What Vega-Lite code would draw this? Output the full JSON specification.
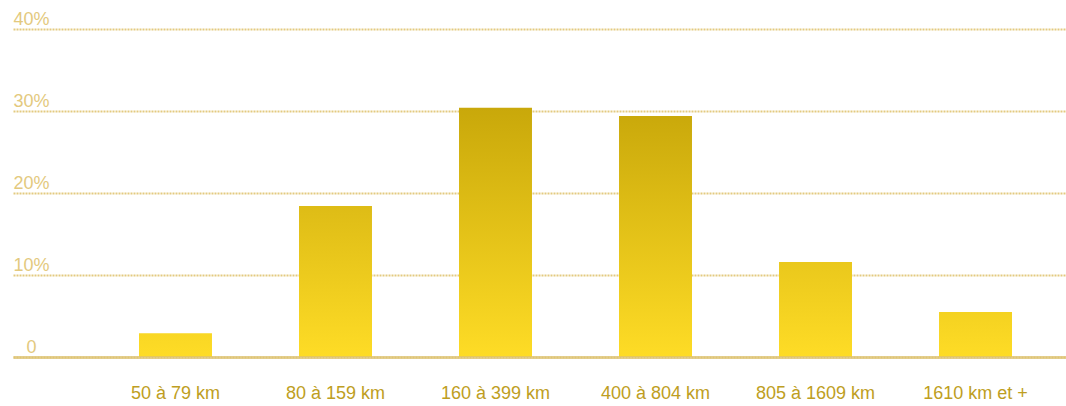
{
  "$schema": "https://vega.github.io/schema/vega-lite/v6.json",
  "autosize": {"type": "none"},
  "padding": {"left": 13, "top": 29, "right": 0, "bottom": 49},
  "width": 1053,
  "height": 328,
  "background": "white",
  "data": {
    "values": [
      {"dist": "50 à 79 km", "pct": 2.9},
      {"dist": "80 à 159 km", "pct": 18.4},
      {"dist": "160 à 399 km", "pct": 30.4},
      {"dist": "400 à 804 km", "pct": 29.4},
      {"dist": "805 à 1609 km", "pct": 11.6},
      {"dist": "1610 km et +", "pct": 5.5}
    ]
  },
  "config": {
    "view": {"stroke": null},
    "font": "Liberation Sans"
  },
  "encoding": {
    "x": {
      "field": "dist",
      "type": "nominal",
      "sort": null,
      "scale": {"paddingInner": 0.544, "paddingOuter": 0.5625, "align": 0.7, "round": false},
      "axis": {
        "title": null,
        "orient": "bottom",
        "labelAngle": 0,
        "ticks": false,
        "tickSize": 0,
        "labelPadding": 27,
        "labelFontSize": 18,
        "labelColor": "#BE9E22",
        "labelFont": "Liberation Sans",
        "domainColor": "#DCC272",
        "domainOpacity": 0.75,
        "domainWidth": 3,
        "grid": false,
        "zindex": 1
      }
    },
    "y": {
      "field": "pct",
      "type": "quantitative",
      "scale": {"domain": [0, 40], "nice": false},
      "axis": {
        "title": null,
        "values": [0, 10, 20, 30, 40],
        "labelExpr": "datum.value == 0 ? '0' : datum.value + '%'",
        "domain": false,
        "ticks": false,
        "tickSize": 0,
        "labelAlign": "center",
        "labelBaseline": "alphabetic",
        "labelPadding": -18,
        "labelOffset": -5,
        "labelFontSize": 18,
        "labelColor": "#E3C97E",
        "labelFont": "Liberation Sans",
        "grid": true,
        "gridColor": "#E3CA80",
        "gridWidth": 2,
        "gridDash": [2, 1],
        "gridOpacity": 1
      }
    }
  },
  "layer": [
    {
      "mark": {"type": "bar"},
      "encoding": {
        "fill": {
          "field": "pct",
          "type": "quantitative",
          "scale": {"domain": [0, 40], "range": ["#FEDC26", "#B89800"]},
          "legend": null
        }
      }
    },
    {
      "mark": {
        "type": "bar",
        "fill": {
          "gradient": "linear",
          "x1": 0, "y1": 1, "x2": 0, "y2": 0,
          "stops": [
            {"offset": 0, "color": "rgba(254,220,38,1)"},
            {"offset": 1, "color": "rgba(254,220,38,0)"}
          ]
        }
      }
    }
  ]
}
